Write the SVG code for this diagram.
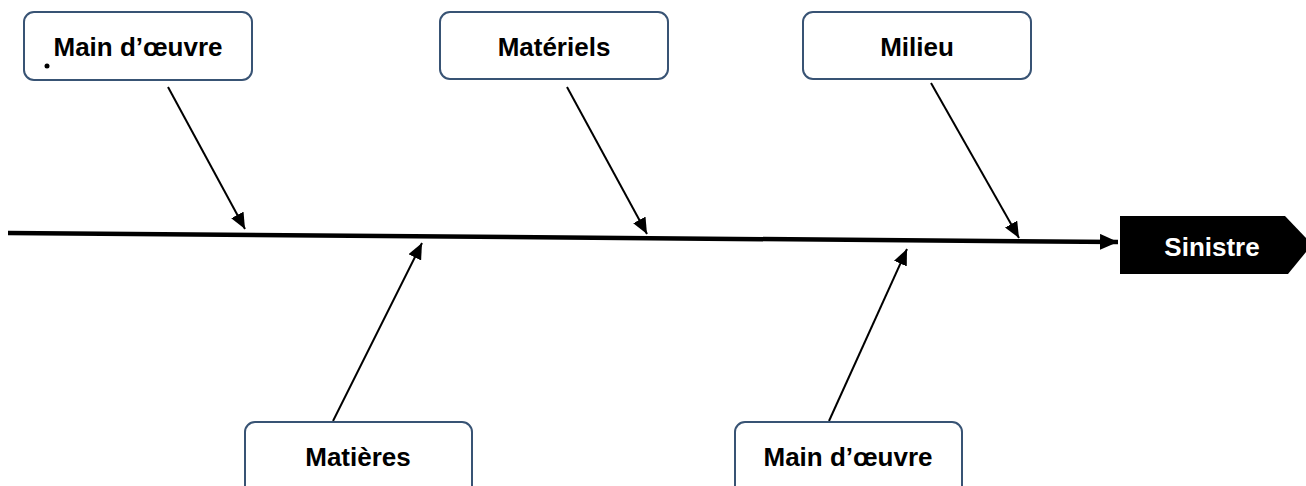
<svg xmlns="http://www.w3.org/2000/svg" width="1306" height="486" viewBox="0 0 1306 486">
<style>
.box{fill:#fff;stroke:#385374;stroke-width:2}
.lbl{font-family:"Liberation Sans",Arial,sans-serif;font-weight:bold;font-size:26px;fill:#000;text-anchor:middle}
.br{stroke:#000;stroke-width:2;fill:none;marker-end:url(#ah)}
</style>
<defs>
<marker id="ah" markerUnits="userSpaceOnUse" markerWidth="18" markerHeight="14" refX="16" refY="7" orient="auto">
<path d="M0,0 L16,7 L0,14 Z" fill="#000"/>
</marker>
<marker id="ahs" markerUnits="userSpaceOnUse" markerWidth="20" markerHeight="16" refX="18" refY="8" orient="auto">
<path d="M0,0 L18,8 L0,16 Z" fill="#000"/>
</marker>
</defs>
<rect width="1306" height="486" fill="#fff"/>
<g id="connectors">
<line x1="8" y1="233" x2="1118" y2="242" stroke="#000" stroke-width="4.5" marker-end="url(#ahs)"/>
<line class="br" x1="168" y1="87" x2="245" y2="229"/>
<line class="br" x1="567" y1="87" x2="647" y2="234"/>
<line class="br" x1="931" y1="83" x2="1019" y2="238"/>
<line class="br" x1="333" y1="421" x2="422" y2="243"/>
<line class="br" x1="829" y1="421" x2="907" y2="249"/>
</g>
<g id="n1">
<rect class="box" x="24" y="12" width="228" height="68" rx="10"/>
<text class="lbl" x="138" y="56">Main d’œuvre</text>
<circle cx="47" cy="66" r="2.5" fill="#000"/>
</g>
<g id="n2">
<rect class="box" x="440" y="12" width="228" height="67" rx="10"/>
<text class="lbl" x="554" y="56">Matériels</text>
</g>
<g id="n3">
<rect class="box" x="803" y="12" width="228" height="67" rx="10"/>
<text class="lbl" x="917" y="56">Milieu</text>
</g>
<g id="n4">
<rect class="box" x="245" y="422" width="227" height="80" rx="10"/>
<text class="lbl" x="358" y="466">Matières</text>
</g>
<g id="n5">
<rect class="box" x="735" y="422" width="227" height="80" rx="10"/>
<text class="lbl" x="848" y="466">Main d’œuvre</text>
</g>
<g id="sinistre">
<path d="M1120,216 L1285,216 L1306,238 L1306,252 L1288,274 L1120,274 Z" fill="#000"/>
<text class="lbl" x="1212" y="256" style="fill:#fff">Sinistre</text>
</g>
</svg>
